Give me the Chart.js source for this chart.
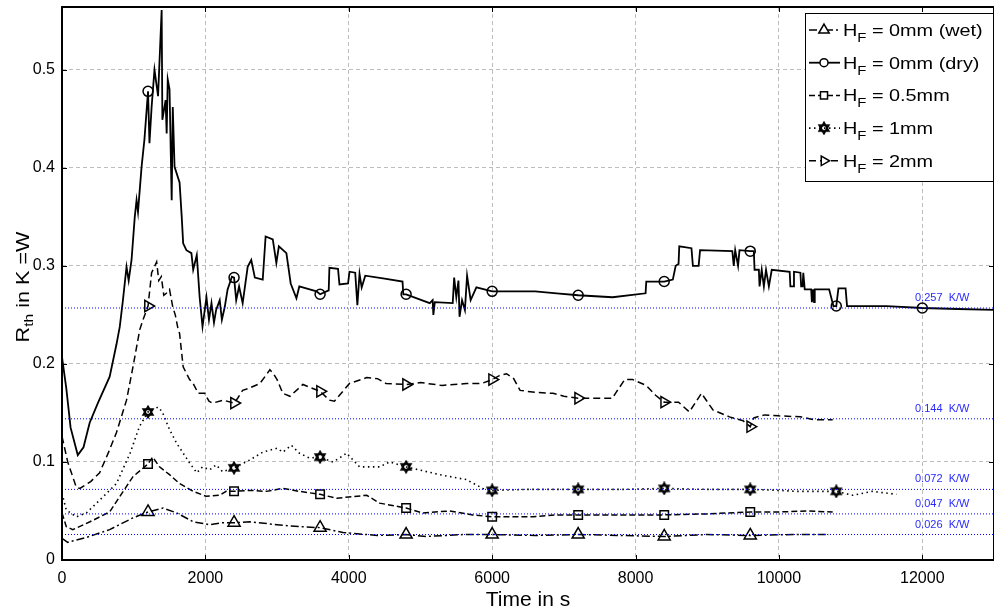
<!DOCTYPE html>
<html>
<head>
<meta charset="utf-8">
<script src="https://cdn.jsdelivr.net/npm/chart.js@4/dist/chart.umd.min.js"></script>
<style>
  html, body { margin: 0; padding: 0; background: #fff; }
  #wrap { width: 994px; height: 612px; }
</style>
</head>
<body>
<div id="wrap"><canvas id="rthChart" width="994" height="612"></canvas></div>
<script>
// time in s / R_th in K/W
const timeWet = [0, 80, 340, 665, 990, 1200, 1410, 1600, 1830, 2060, 2240, 2400, 2620, 3000, 3310, 3600, 3920, 4400, 4800, 5080, 5600, 6000, 6600, 7200, 7800, 8400, 9000, 9600, 10200, 10700];
const rthWet  = [0.022, 0.018, 0.023, 0.031, 0.043, 0.049, 0.053, 0.048, 0.039, 0.036, 0.038, 0.038, 0.039, 0.036, 0.034, 0.033, 0.028, 0.025, 0.026, 0.024, 0.026, 0.026, 0.025, 0.026, 0.025, 0.024, 0.026, 0.025, 0.026, 0.026];

const timeDry = [0, 60, 120, 220, 300, 386, 500, 665, 760, 806, 850, 900, 930, 970, 1015, 1040, 1060, 1110, 1150, 1200, 1220, 1250, 1290, 1340, 1390, 1400, 1445, 1460, 1475, 1500, 1530, 1545, 1570, 1640, 1670, 1690, 1735, 1805, 1830, 1880, 1920, 1960, 2015, 2050, 2085, 2120, 2150, 2200, 2230, 2270, 2310, 2370, 2400, 2430, 2470, 2520, 2590, 2640, 2690, 2800, 2840, 2940, 2990, 3025, 3130, 3190, 3270, 3310, 3550, 3600, 3720, 3730, 3850, 3870, 3990, 4010, 4090, 4120, 4150, 4180, 4230, 4500, 4750, 4760, 4800, 5130, 5170, 5180, 5200, 5450, 5470, 5500, 5530, 5545, 5580, 5620, 5650, 5700, 5780, 6000, 6600, 6900, 7200, 7680, 8140, 8150, 8400, 8520, 8560, 8600, 8610, 8780, 8800, 8880, 8900, 9350, 9370, 9390, 9430, 9450, 9600, 9650, 9660, 9720, 9730, 9760, 9790, 9820, 9860, 9900, 10150, 10160, 10200, 10210, 10300, 10310, 10330, 10340, 10360, 10450, 10460, 10480, 10490, 10500, 10700, 10760, 10800, 10830, 10930, 10950, 11500, 12000, 12500, 13000];
const rthDry  = [0.207, 0.175, 0.135, 0.107, 0.115, 0.14, 0.16, 0.187, 0.22, 0.238, 0.265, 0.299, 0.285, 0.306, 0.35, 0.367, 0.355, 0.401, 0.429, 0.478, 0.425, 0.462, 0.5, 0.473, 0.561, 0.449, 0.469, 0.435, 0.49, 0.48, 0.367, 0.462, 0.401, 0.385, 0.35, 0.323, 0.316, 0.313, 0.296, 0.311, 0.268, 0.238, 0.268, 0.245, 0.262, 0.242, 0.255, 0.265, 0.245, 0.258, 0.276, 0.289, 0.288, 0.265, 0.279, 0.262, 0.299, 0.306, 0.288, 0.286, 0.33, 0.327, 0.303, 0.32, 0.313, 0.282, 0.267, 0.279, 0.274, 0.271, 0.275, 0.298, 0.297, 0.281, 0.282, 0.294, 0.293, 0.26, 0.292, 0.278, 0.29, 0.287, 0.284, 0.271, 0.271, 0.262, 0.265, 0.25, 0.263, 0.262, 0.288, 0.268, 0.285, 0.248, 0.265, 0.255, 0.29, 0.265, 0.278, 0.274, 0.274, 0.272, 0.27, 0.268, 0.272, 0.284, 0.284, 0.286, 0.30, 0.302, 0.32, 0.318, 0.30, 0.30, 0.316, 0.315, 0.30, 0.316, 0.30, 0.316, 0.315, 0.315, 0.296, 0.296, 0.279, 0.296, 0.279, 0.296, 0.279, 0.296, 0.294, 0.279, 0.279, 0.294, 0.293, 0.279, 0.279, 0.293, 0.276, 0.276, 0.263, 0.276, 0.263, 0.276, 0.276, 0.259, 0.259, 0.277, 0.277, 0.259, 0.259, 0.257, 0.256, 0.255];

const time05 = [0, 60, 150, 390, 665, 800, 990, 1200, 1265, 1360, 1500, 1640, 1830, 2010, 2200, 2290, 2400, 2620, 2850, 3080, 3310, 3600, 3830, 4250, 4430, 4800, 5030, 5400, 5730, 6000, 6570, 6900, 7200, 8400, 9000, 9600, 10000, 10400, 10750];
const rth05  = [0.048, 0.034, 0.031, 0.039, 0.049, 0.064, 0.085, 0.098, 0.105, 0.095, 0.087, 0.078, 0.07, 0.065, 0.066, 0.07, 0.07, 0.071, 0.07, 0.073, 0.07, 0.067, 0.063, 0.066, 0.058, 0.053, 0.048, 0.05, 0.046, 0.044, 0.044, 0.046, 0.046, 0.046, 0.047, 0.049, 0.049, 0.05, 0.049];

const time1 = [0, 60, 200, 340, 525, 760, 950, 1080, 1200, 1340, 1400, 1460, 1500, 1600, 1690, 1780, 1880, 1960, 2060, 2150, 2240, 2400, 2620, 2800, 3000, 3080, 3200, 3310, 3450, 3600, 3780, 3870, 3970, 4150, 4430, 4570, 4800, 5270, 5640, 5870, 6000, 6500, 7200, 7800, 8400, 9000, 9600, 10000, 10250, 10800, 11030, 11300, 11640];
const rth1  = [0.068, 0.051, 0.044, 0.048, 0.061, 0.078, 0.109, 0.136, 0.151, 0.156, 0.151, 0.14, 0.133, 0.119, 0.109, 0.099, 0.089, 0.095, 0.092, 0.097, 0.09, 0.094, 0.102, 0.11, 0.114, 0.11, 0.117, 0.109, 0.104, 0.105, 0.1, 0.104, 0.109, 0.095, 0.095, 0.1, 0.095, 0.087, 0.082, 0.073, 0.071, 0.072, 0.072, 0.072, 0.073, 0.072, 0.072, 0.071, 0.07, 0.07, 0.066, 0.07, 0.067];

const time2 = [0, 80, 200, 250, 400, 525, 650, 760, 900, 990, 1085, 1130, 1200, 1250, 1290, 1320, 1350, 1385, 1420, 1455, 1500, 1545, 1580, 1620, 1640, 1690, 1780, 1830, 1900, 1990, 2050, 2100, 2250, 2400, 2450, 2520, 2600, 2760, 2900, 2950, 3000, 3080, 3180, 3360, 3600, 3730, 3800, 4010, 4250, 4400, 4520, 4800, 5000, 5300, 5640, 5850, 6000, 6100, 6200, 6300, 6390, 6600, 6850, 7000, 7200, 7680, 7720, 7850, 7960, 8150, 8280, 8400, 8600, 8750, 8920, 9080, 9310, 9500, 9600, 9650, 9800, 10000, 10300, 10500, 10750];
const rth2  = [0.126, 0.1, 0.074, 0.073, 0.08, 0.089, 0.11, 0.13, 0.163, 0.197, 0.235, 0.245, 0.259, 0.293, 0.299, 0.304, 0.285, 0.289, 0.27, 0.272, 0.276, 0.258, 0.25, 0.235, 0.231, 0.197, 0.184, 0.18, 0.17, 0.17, 0.162, 0.16, 0.163, 0.16, 0.165, 0.173, 0.175, 0.18, 0.194, 0.19, 0.184, 0.17, 0.167, 0.179, 0.172, 0.163, 0.162, 0.18, 0.186, 0.185, 0.18, 0.179, 0.181, 0.178, 0.18, 0.18, 0.184, 0.188, 0.19, 0.185, 0.173, 0.171, 0.17, 0.167, 0.165, 0.165, 0.17, 0.184, 0.184, 0.178, 0.168, 0.161, 0.161, 0.151, 0.17, 0.153, 0.146, 0.142, 0.136, 0.145, 0.148, 0.147, 0.146, 0.143, 0.143];

// times where the markers sit
const markersWet = [1200, 2400, 3600, 4800, 6000, 7200, 8400, 9600];
const markersDry = [1200, 2400, 3600, 4800, 6000, 7200, 8400, 9600, 10800, 12000];
const markers05  = [1200, 2400, 3600, 4800, 6000, 7200, 8400, 9600];
const markers1   = [1200, 2400, 3600, 4800, 6000, 7200, 8400, 9600, 10800];
const markers2   = [1200, 2400, 3600, 4800, 6000, 7200, 8400, 9600];

// steady state values (blue dotted lines)
const refLevels = [0.257, 0.144, 0.072, 0.047, 0.026];

const xTicks = [0, 2000, 4000, 6000, 8000, 10000, 12000];
const yTicks = [0, 0.1, 0.2, 0.3, 0.4, 0.5];

const FONT = '"Liberation Sans", Arial, Helvetica, sans-serif';

// hexagram marker for the 1mm curve
function makeHexagram(size) {
    const c = document.createElement('canvas');
    c.width = size; c.height = size;
    const g = c.getContext('2d');
    const cx = size / 2, r = size / 2 - 1.5;
    g.strokeStyle = '#000';
    g.lineWidth = 1.8;
    [0, 1].forEach(k => {
        g.beginPath();
        for (let i = 0; i < 3; i++) {
            const a = -Math.PI / 2 + k * Math.PI + i * 2 * Math.PI / 3;
            const px = cx + r * Math.cos(a), py = cx + r * Math.sin(a);
            if (i === 0) g.moveTo(px, py); else g.lineTo(px, py);
        }
        g.closePath();
        g.stroke();
    });
    return c;
}
const hexagram = makeHexagram(14);

function toPoints(xs, ys) {
    return xs.map((x, i) => ({ x: x, y: ys[i] }));
}

const seriesDefs = [
    { key: 'wet', label: ' = 0mm (wet)', xs: timeWet, ys: rthWet, marks: markersWet, dash: [8, 3, 2, 3], width: 1.5, style: 'triangle', radius: 7, rot: 0 },
    { key: 'dry', label: ' = 0mm (dry)', xs: timeDry, ys: rthDry, marks: markersDry, dash: [], width: 1.8, style: 'circle', radius: 5, rot: 0 },
    { key: 'h05', label: ' = 0.5mm', xs: time05, ys: rth05, marks: markers05, dash: [6, 3], width: 1.5, style: 'rect', radius: 6, rot: 0 },
    { key: 'h1', label: ' = 1mm', xs: time1, ys: rth1, marks: markers1, dash: [1.5, 3.5], width: 1.6, style: hexagram, radius: 6, rot: 0 },
    { key: 'h2', label: ' = 2mm', xs: time2, ys: rth2, marks: markers2, dash: [7, 4], width: 1.5, style: 'triangle', radius: 6.5, rot: 90 }
];

const refDatasets = refLevels.map(v => ({
    label: 'ref ' + v,
    data: [{ x: 0, y: v }, { x: 13000, y: v }],
    borderColor: '#0000ff',
    borderWidth: 1,
    borderDash: [1, 2],
    pointRadius: 0
}));

const seriesDatasets = seriesDefs.map(s => ({
    label: s.key,
    data: toPoints(s.xs, s.ys),
    borderColor: '#000',
    borderWidth: s.width,
    borderDash: s.dash,
    tension: 0,
    pointStyle: s.style,
    pointRotation: s.rot,
    pointRadius: ctx => (ctx.raw && s.marks.includes(ctx.raw.x)) ? s.radius : 0,
    pointBorderColor: '#000',
    pointBackgroundColor: 'rgba(0,0,0,0)',
    pointBorderWidth: 1.5
}));

// draws text with subscripts, stretched horizontally like the original export
function richWidth(ctx, parts) {
    let w = 0;
    parts.forEach(p => { ctx.font = p.size + 'px ' + FONT; w += ctx.measureText(p.t).width; });
    return w;
}
function drawRich(ctx, parts, x, y, sx) {
    ctx.save();
    ctx.translate(x, y);
    ctx.scale(sx, 1);
    let cx = 0;
    ctx.textBaseline = 'alphabetic';
    ctx.textAlign = 'left';
    parts.forEach(p => {
        ctx.font = p.size + 'px ' + FONT;
        ctx.fillText(p.t, cx, p.dy || 0);
        cx += ctx.measureText(p.t).width;
    });
    ctx.restore();
}

const decorPlugin = {
    id: 'decor',
    afterDraw(chart) {
        const ctx = chart.ctx;
        const area = chart.chartArea;
        const xs = chart.scales.x, ys = chart.scales.y;

        // steady state labels
        ctx.save();
        ctx.fillStyle = '#2a2aff';
        ctx.font = '11px ' + FONT;
        ctx.textBaseline = 'middle';
        ctx.textAlign = 'left';
        refLevels.forEach(v => {
            ctx.fillText(v.toFixed(3) + '  K/W', 915, ys.getPixelForValue(v) - 10);
        });
        ctx.restore();

        // frame and inward ticks
        ctx.save();
        ctx.strokeStyle = '#000';
        ctx.lineWidth = 2;
        ctx.beginPath();
        ctx.moveTo(area.left, area.bottom);
        ctx.lineTo(area.left, area.top);
        ctx.lineTo(area.right, area.top);
        ctx.lineTo(area.right, area.bottom);
        ctx.closePath();
        ctx.stroke();
        ctx.lineWidth = 1;
        ctx.beginPath();
        yTicks.forEach(v => {
            const py = Math.round(ys.getPixelForValue(v)) + 0.5;
            ctx.moveTo(area.left, py); ctx.lineTo(area.left + 5, py);
            ctx.moveTo(area.right, py); ctx.lineTo(area.right - 5, py);
        });
        xTicks.forEach(v => {
            const px = Math.round(xs.getPixelForValue(v)) + 0.5;
            ctx.moveTo(px, area.bottom); ctx.lineTo(px, area.bottom - 5);
            ctx.moveTo(px, area.top); ctx.lineTo(px, area.top + 5);
        });
        ctx.stroke();
        ctx.restore();

        // axis titles
        ctx.save();
        ctx.fillStyle = '#000';
        ctx.font = '21px ' + FONT;
        ctx.textAlign = 'center';
        ctx.textBaseline = 'alphabetic';
        ctx.fillText('Time in s', (area.left + area.right) / 2, 606);
        ctx.restore();

        const yParts = [
            { t: 'R', size: 18 },
            { t: 'th', size: 13, dy: 4 },
            { t: ' in K =W', size: 18 }
        ];
        ctx.save();
        ctx.fillStyle = '#000';
        ctx.translate(29, 287);
        ctx.rotate(-Math.PI / 2);
        const sy = 1.2;
        const yw = richWidth(ctx, yParts) * sy;
        drawRich(ctx, yParts, -yw / 2, 0, sy);
        ctx.restore();

        // legend box
        const lx = 805, ltop = 13, lw = 189, lh = 169;
        ctx.save();
        ctx.fillStyle = '#fff';
        ctx.fillRect(lx, ltop, lw, lh);
        ctx.strokeStyle = '#000';
        ctx.lineWidth = 1;
        ctx.strokeRect(lx + 0.5, ltop + 0.5, lw - 1, lh - 1);
        seriesDefs.forEach((s, i) => {
            const ry = 30 + i * 32.7;
            ctx.save();
            ctx.strokeStyle = '#000';
            ctx.lineWidth = s.width;
            ctx.setLineDash(s.dash);
            ctx.beginPath();
            ctx.moveTo(809, ry);
            ctx.lineTo(840, ry);
            ctx.stroke();
            ctx.setLineDash([]);
            ctx.lineWidth = 1.5;
            ctx.fillStyle = '#fff';
            Chart.helpers.drawPoint(ctx, {
                pointStyle: s.style,
                radius: s.radius - 1,
                rotation: s.rot,
                borderWidth: 1.5
            }, 824, ry);
            ctx.restore();
            ctx.fillStyle = '#000';
            drawRich(ctx, [
                { t: 'H', size: 16 },
                { t: 'F', size: 12, dy: 6 },
                { t: s.label, size: 16 }
            ], 843, ry + 6, 1.24);
        });
        ctx.restore();
    }
};

new Chart(document.getElementById('rthChart').getContext('2d'), {
    type: 'line',
    data: { datasets: refDatasets.concat(seriesDatasets) },
    options: {
        responsive: false,
        animation: false,
        layout: { padding: { top: 7, right: 0, left: 0, bottom: 0 } },
        plugins: { legend: { display: false }, tooltip: { enabled: false } },
        scales: {
            x: {
                type: 'linear',
                min: 0,
                max: 13000,
                afterFit: scale => {
                    scale.height = 52;
                    scale.paddingLeft = 0;
                    scale.paddingRight = 0;
                },
                afterBuildTicks: scale => { scale.ticks = xTicks.map(v => ({ value: v })); },
                grid: { color: '#bdbdbd', lineWidth: 1, drawTicks: false },
                border: { display: false, dash: [4, 3] },
                ticks: {
                    padding: 9,
                    color: '#000',
                    font: { family: FONT, size: 16 },
                    maxRotation: 0,
                    callback: v => String(v)
                }
            },
            y: {
                type: 'linear',
                min: 0,
                max: 0.564,
                afterFit: scale => {
                    scale.width = 62;
                    scale.paddingTop = 0;
                    scale.paddingBottom = 0;
                },
                afterBuildTicks: scale => { scale.ticks = yTicks.map(v => ({ value: v })); },
                grid: { color: '#bdbdbd', lineWidth: 1, drawTicks: false },
                border: { display: false, dash: [4, 3] },
                ticks: {
                    padding: 7,
                    color: '#000',
                    font: { family: FONT, size: 16 },
                    callback: v => v === 0 ? '0' : v.toFixed(1)
                }
            }
        }
    },
    plugins: [decorPlugin]
});
</script>
</body>
</html>
